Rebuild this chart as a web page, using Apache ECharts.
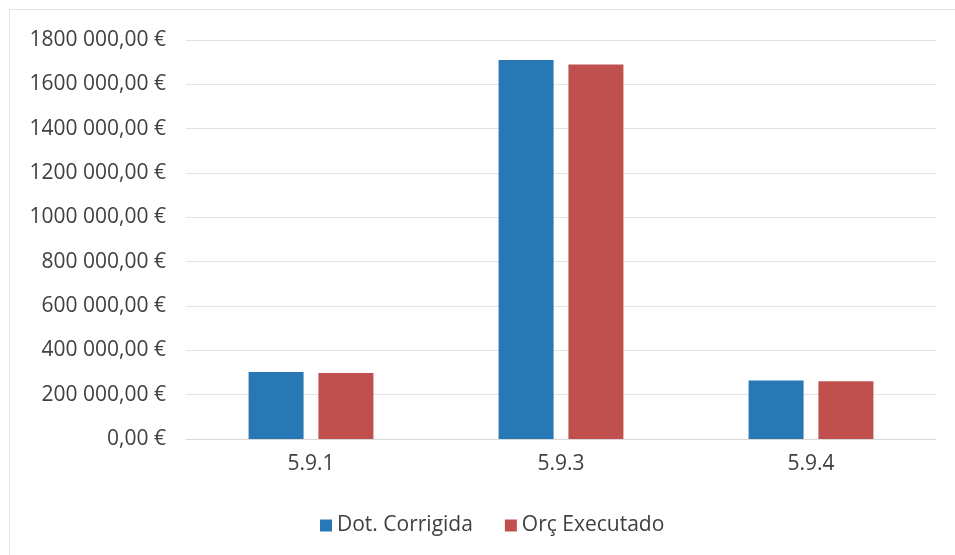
<!DOCTYPE html>
<html>
<head>
<meta charset="utf-8">
<script src="https://cdn.jsdelivr.net/npm/echarts@6/dist/echarts.min.js"></script>
<style>
html,body{margin:0;padding:0;background:#fff;}
#frame{position:absolute;left:9px;top:9px;width:960px;height:560px;border:1px solid #e4e4e4;box-sizing:border-box;}
#chart{position:absolute;left:0;top:0;width:955px;height:555px;}
</style>
</head>
<body>
<div id="frame"></div>
<div id="chart"></div>
<script>
const categories = ['5.9.1', '5.9.3', '5.9.4'];
const dotCorrigida = [302000, 1710000, 264000];
const orcExecutado = [298000, 1690000, 261000];
const tickValues = [0, 200000, 400000, 600000, 800000, 1000000, 1200000, 1400000, 1600000, 1800000];
const tickLabels = ['0,00 €', '200 000,00 €', '400 000,00 €', '600 000,00 €', '800 000,00 €',
  '1000 000,00 €', '1200 000,00 €', '1400 000,00 €', '1600 000,00 €', '1800 000,00 €'];

const chart = echarts.init(document.getElementById('chart'));
const font = 'Open Sans';
chart.setOption({
  animation: false,
  grid: { left: 186, right: 19, top: 40, bottom: 116, containLabel: false },
  legend: {
    bottom: 14,
    left: 315,
    itemWidth: 12, itemHeight: 12, itemGap: 32,
    icon: 'rect',
    textStyle: { fontFamily: font, fontSize: 21, color: '#404040' },
    data: ['Dot. Corrigida', 'Orç Executado']
  },
  xAxis: {
    type: 'category',
    data: categories,
    axisLine: { show: true, lineStyle: { color: '#d9d9d9' } },
    axisTick: { show: false },
    axisLabel: { fontFamily: font, fontSize: 21, color: '#404040', margin: 15 }
  },
  yAxis: {
    type: 'value',
    min: 0, max: 1800000, interval: 200000,
    axisLine: { show: false },
    axisTick: { show: false },
    splitLine: { lineStyle: { color: '#e3e3e3' } },
    axisLabel: {
      fontFamily: font, fontSize: 21, color: '#404040', margin: 20,
      formatter: v => { const i = tickValues.indexOf(v); return i >= 0 ? tickLabels[i] : ''; }
    }
  },
  series: [
    { name: 'Dot. Corrigida', type: 'bar', data: dotCorrigida, barWidth: '22%', barGap: '27%',
      itemStyle: { color: '#2878b6' } },
    { name: 'Orç Executado', type: 'bar', data: orcExecutado, barWidth: '22%', barGap: '27%',
      itemStyle: { color: '#c0504d' } }
  ]
});
</script>
</body>
</html>
